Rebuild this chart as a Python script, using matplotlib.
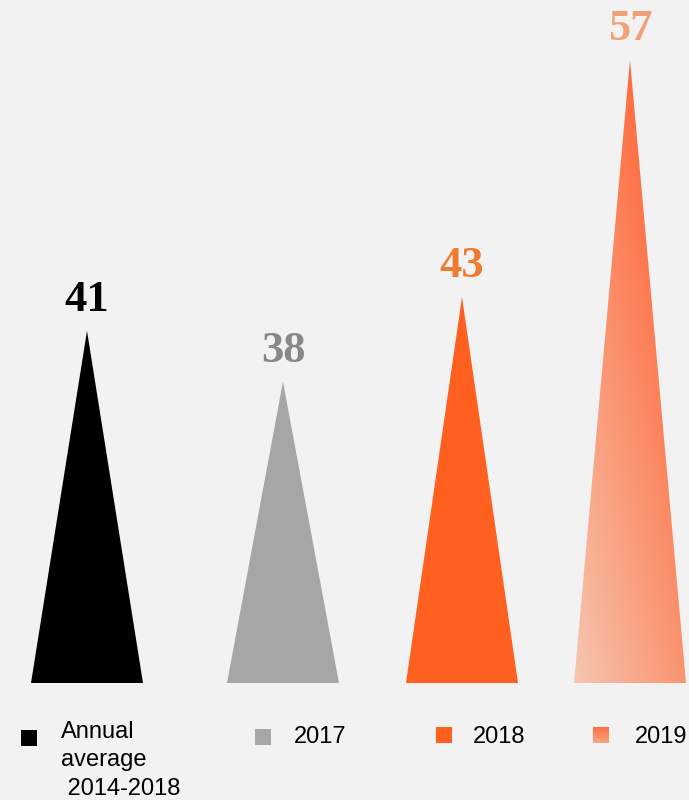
import numpy as np
import matplotlib
matplotlib.use("Agg")
import matplotlib.pyplot as plt
from matplotlib.patches import Polygon, Rectangle
from matplotlib.colors import LinearSegmentedColormap

# ---- data ----
categories = ["Annual\naverage\n 2014-2018", "2017", "2018", "2019"]
values = [41, 38, 43, 57]
bar_colors = ["#000000", "#a6a6a6", "#ff6020", None]  # None = gradient
label_colors = ["#000000", "#888888", "#f07a30", "#f2a078"]

# ---- layout ----
W, H = 689, 800
BG = "#f2f2f2"
xpos = [87, 283, 462, 630]
half_w = 56
ymin = 20.2

fig = plt.figure(figsize=(W / 100, H / 100), dpi=100, facecolor=BG)
ax = fig.add_axes([0, 117 / H, 1, 623 / H])
ax.set_facecolor(BG)
ax.set_xlim(0, W)
ax.set_ylim(ymin, 57)
ax.axis("off")

grad_cmap = LinearSegmentedColormap.from_list("g", ["#f6c6b0", "#ff6a3c"])

for x, v, c, lc in zip(xpos, values, bar_colors, label_colors):
    verts = [(x - half_w, ymin), (x, v), (x + half_w, ymin)]
    if c is not None:
        ax.add_patch(Polygon(verts, closed=True, facecolor=c, edgecolor="none"))
    else:
        poly = Polygon(verts, closed=True, facecolor="none", edgecolor="none")
        ax.add_patch(poly)
        nx, ny = 200, 300
        xx, yy = np.meshgrid(np.linspace(0, 1, nx), np.linspace(0, 1, ny))
        t = np.clip(0.55 * xx + 0.7 * yy, 0, 1)
        im = ax.imshow(t, cmap=grad_cmap, vmin=0, vmax=1, origin="lower",
                       extent=[x - half_w, x + half_w, ymin, v],
                       aspect="auto", interpolation="bilinear", zorder=2)
        im.set_clip_path(poly)
    ax.annotate(str(v), xy=(x, v), xytext=(0, 8), textcoords="offset points",
                ha="center", va="bottom", fontsize=32, fontweight="bold",
                family="Liberation Serif", color=lc, annotation_clip=False)

# ---- legend ----
sq_x = [21, 255, 436, 593]
sq_y = [730, 729, 727, 727]
txt_x = [61, 294, 473, 635]
sq = 16
for i, (cat, c) in enumerate(zip(categories, bar_colors)):
    left = sq_x[i] / W
    bottom = (H - sq_y[i] - sq) / H
    if c is not None:
        fig.patches.append(Rectangle((left, bottom), sq / W, sq / H,
                                     transform=fig.transFigure,
                                     facecolor=c, edgecolor="none"))
    else:
        lax = fig.add_axes([left, bottom, sq / W, sq / H])
        lax.axis("off")
        g = np.linspace(1, 0.35, 50).reshape(-1, 1)
        lax.imshow(g, cmap=grad_cmap, vmin=0, vmax=1, aspect="auto",
                   origin="upper", interpolation="bilinear")
    if "\n" in cat:
        fig.text(txt_x[i] / W, (H - 721) / H, cat, ha="left", va="top",
                 fontsize=17, family="Liberation Sans", color="#000000",
                 linespacing=1.38)
    else:
        fig.text(txt_x[i] / W, (H - 737) / H, cat, ha="left", va="center",
                 fontsize=17, family="Liberation Sans", color="#000000")

fig.savefig("out.png", dpi=100, facecolor=BG)
